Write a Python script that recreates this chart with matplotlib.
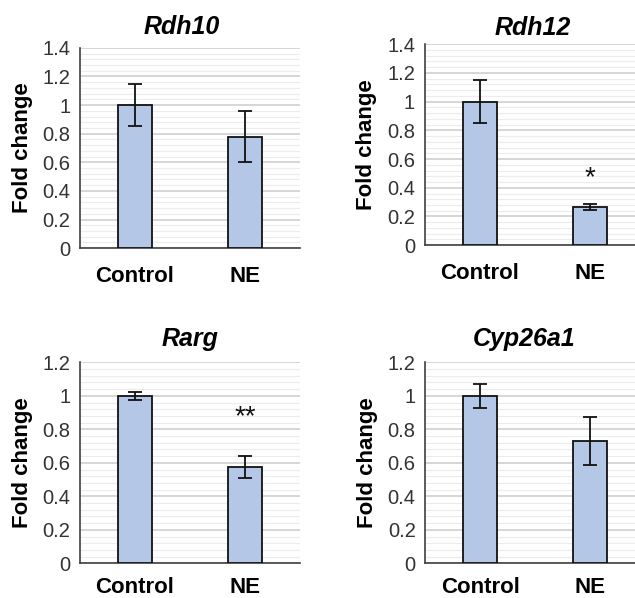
import matplotlib.pyplot as plt
import numpy as np

plt.rcParams['font.family'] = ['Liberation Sans', 'DejaVu Sans']

# -----------------------------
# Data
# -----------------------------
groups = ["Control", "NE"]
genes = ["Rdh10", "Rdh12", "Rarg", "Cyp26a1"]

rdh10_mean = [1.0, 0.78]
rdh10_err = [0.145, 0.18]
rdh12_mean = [1.0, 0.267]
rdh12_err = [0.15, 0.023]
rarg_mean = [1.0, 0.577]
rarg_err = [0.026, 0.065]
cyp26a1_mean = [1.0, 0.732]
cyp26a1_err = [0.07, 0.142]

stars = ["", "*", "**", ""]
star_y = [0, 0.47, 0.87, 0]
ymax = [1.4, 1.4, 1.2, 1.2]

means = [rdh10_mean, rdh12_mean, rarg_mean, cyp26a1_mean]
errs = [rdh10_err, rdh12_err, rarg_err, cyp26a1_err]

# -----------------------------
# Layout (figure fractions)
# -----------------------------
positions = [
    [0.126, 0.585, 0.346, 0.335],
    [0.669, 0.590, 0.346, 0.336],
    [0.126, 0.058, 0.346, 0.336],
    [0.670, 0.058, 0.346, 0.336],
]
title_x = [0.464, 0.49, 0.5, 0.449]
title_pad = [10, 7, 12, 12]
xlabel_pad = [13, 13, 10, 10]

fig = plt.figure(figsize=(6.35, 5.98), dpi=100)

for i in range(4):
    ax = fig.add_axes(positions[i])
    x = np.arange(len(groups))
    ax.bar(x, means[i], width=0.31, color="#B4C7E7", edgecolor="#111111",
           linewidth=1.3, zorder=3)
    ax.errorbar(x, means[i], yerr=errs[i], fmt="none", ecolor="#111111",
                elinewidth=1.3, capsize=5, capthick=1.3, zorder=4)
    if stars[i]:
        ax.text(1, star_y[i], stars[i], ha="center", va="center",
                fontsize=20, color="#111111")

    ax.set_xlim(-0.5, 1.5)
    ax.set_ylim(0, ymax[i])
    ticks = np.arange(0, ymax[i] + 0.01, 0.2)
    ax.set_yticks(ticks)
    ax.set_yticklabels(["0" if v == 0 else ("1" if abs(v - 1) < 1e-9 else f"{v:.1f}")
                        for v in ticks], fontsize=14.5, color="#333333")
    ax.set_yticks(np.arange(0, ymax[i] + 0.001, 0.04), minor=True)
    ax.set_xticks(x)
    ax.set_xticklabels(groups, fontsize=16, fontweight="bold")
    ax.tick_params(axis="both", which="both", length=0)
    ax.tick_params(axis="x", pad=xlabel_pad[i])
    ax.tick_params(axis="y", pad=7)

    ax.grid(axis="y", which="major", color="#d0d0d0", linewidth=1.2, zorder=0)
    ax.grid(axis="y", which="minor", color="#ececec", linewidth=0.8, zorder=0)
    ax.set_axisbelow(True)

    for s in ["top", "right"]:
        ax.spines[s].set_visible(False)
    for s in ["left", "bottom"]:
        ax.spines[s].set_color("#404040")
        ax.spines[s].set_linewidth(1.2)

    ax.set_ylabel("Fold change", fontsize=16, fontweight="bold", labelpad=7)
    ax.set_title(genes[i], fontsize=18, fontweight="bold", style="italic",
                 x=title_x[i], pad=title_pad[i])

fig.savefig("out.png", dpi=100)
